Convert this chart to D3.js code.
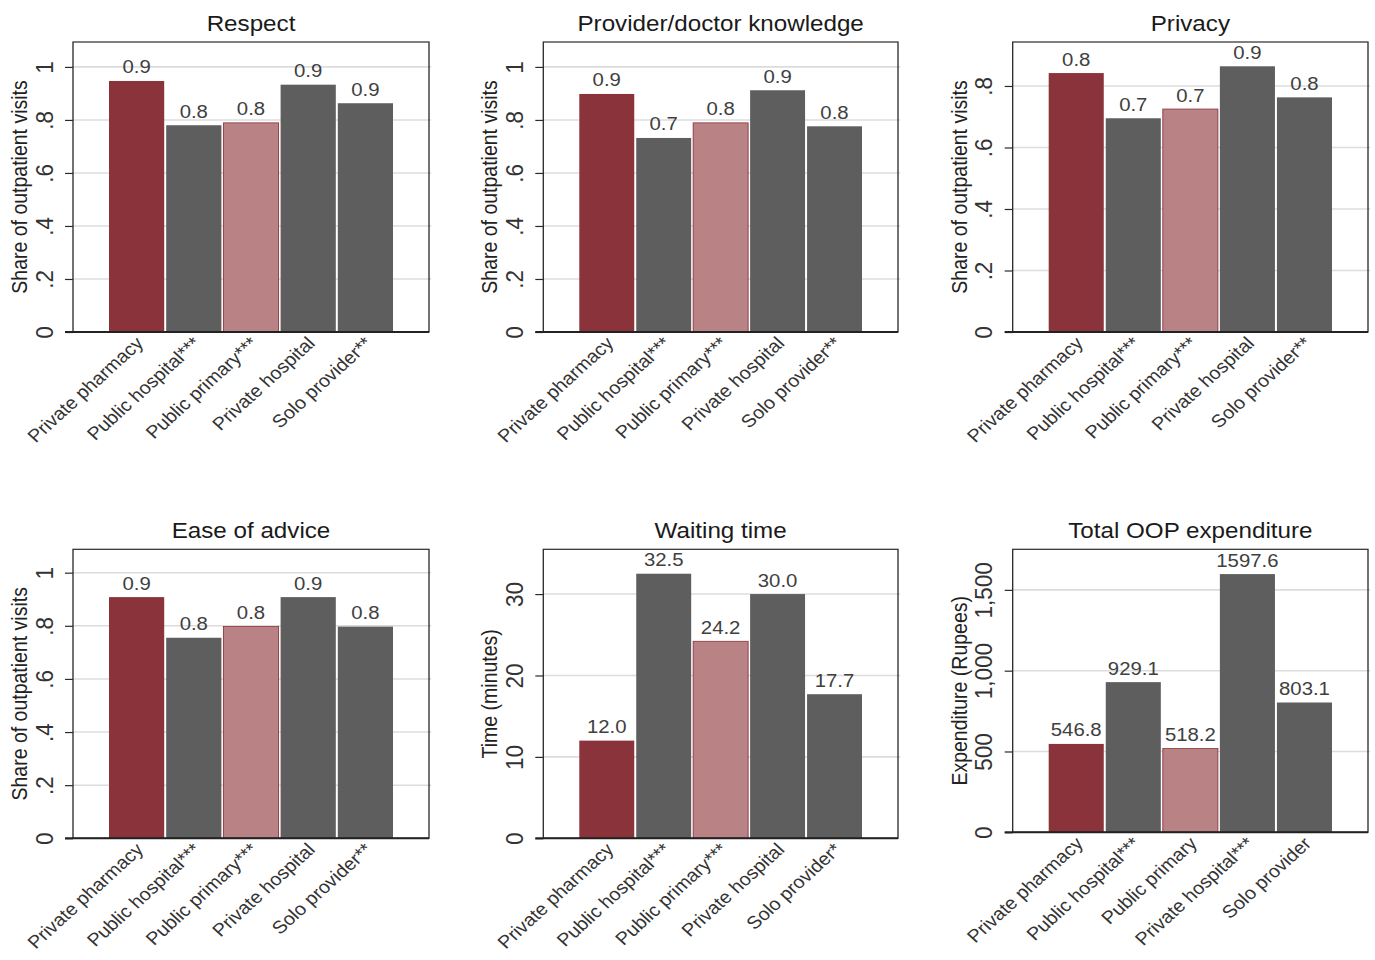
<!DOCTYPE html>
<html>
<head>
<meta charset="utf-8">
<script src="https://cdn.jsdelivr.net/npm/d3@7"></script>
<style>
  html, body { margin: 0; padding: 0; background: #fff; }
  svg { display: block; font-family: "Liberation Sans", Arial, sans-serif; }
</style>
</head>
<body>
<script>
// provider types on the x axis (same order in every panel)
const providers = ["Private pharmacy", "Public hospital", "Public primary", "Private hospital", "Solo provider"];

// significance stars appended to each label, per panel
const starsSatisfaction = ["", "***", "***", "", "**"];
const starsWaiting = ["", "***", "***", "", "*"];
const starsSpending = ["", "***", "", "***", ""];

// values
const respect = [0.947, 0.780, 0.789, 0.933, 0.863];
const knowledge = [0.898, 0.732, 0.789, 0.912, 0.776];
const privacy = [0.842, 0.695, 0.725, 0.864, 0.763];
const easeAdvice = [0.908, 0.755, 0.797, 0.908, 0.797];
const waitingTime = [12.0, 32.5, 24.2, 30.0, 17.7];
const oopSpending = [546.8, 929.1, 518.2, 1597.6, 803.1];

// y tick values
const shareTicks = [0, 0.2, 0.4, 0.6, 0.8, 1];
const privacyTicks = [0, 0.2, 0.4, 0.6, 0.8];
const timeTicks = [0, 10, 20, 30];
const spendTicks = [0, 500, 1000, 1500];

const barColors = ["#8b333b", "#5e5e5e", "#b98284", "#5e5e5e", "#5e5e5e"];

// the picture is stretched a bit horizontally, so draw in a narrower box
const SX = 1.1;
const W = 1375, H = 960;

const fmtShare = d => d === 0 ? "0" : d === 1 ? "1" : String(d).replace("0.", ".");

// panel frames, in picture pixels
const panels = [
  {title: "Respect", values: respect, stars: starsSatisfaction, ticks: shareTicks, ymax: 1.094, fmt: fmtShare,
   ylab: "Share of outpatient visits", left: 73, right: 429, top: 42, bottom: 332},
  {title: "Provider/doctor knowledge", values: knowledge, stars: starsSatisfaction, ticks: shareTicks, ymax: 1.094, fmt: fmtShare,
   ylab: "Share of outpatient visits", left: 543.3, right: 898, top: 42, bottom: 332},
  {title: "Privacy", values: privacy, stars: starsSatisfaction, ticks: privacyTicks, ymax: 0.943, fmt: fmtShare,
   ylab: "Share of outpatient visits", left: 1012.7, right: 1368, top: 42, bottom: 332},
  {title: "Ease of advice", values: easeAdvice, stars: starsSatisfaction, ticks: shareTicks, ymax: 1.088, fmt: fmtShare,
   ylab: "Share of outpatient visits", left: 73, right: 429, top: 549.3, bottom: 838.3},
  {title: "Waiting time", values: waitingTime, stars: starsWaiting, ticks: timeTicks, ymax: 35.5, fmt: d3.format("d"),
   ylab: "Time (minutes)", left: 543.3, right: 898, top: 549.3, bottom: 838.3},
  {title: "Total OOP expenditure", values: oopSpending, stars: starsSpending, ticks: spendTicks, ymax: 1751, fmt: d3.format(","),
   ylab: "Expenditure (Rupees)", left: 1012.7, right: 1368, top: 549.3, bottom: 832.3}
];

const svg = d3.select("body").append("svg")
  .attr("width", W)
  .attr("height", H)
  .attr("viewBox", `0 0 ${W / SX} ${H}`)
  .attr("preserveAspectRatio", "none");

panels.forEach(p => {
  const left = p.left / SX, right = p.right / SX;
  const inset = 36 / SX;
  const g = svg.append("g");

  const x = d3.scaleBand()
    .domain(providers)
    .range([left + inset, right - inset])
    .paddingInner(0.035);

  const y = d3.scaleLinear()
    .domain([0, p.ymax])
    .range([p.bottom, p.top]);

  // grid lines
  g.append("g").selectAll("line")
    .data(p.ticks.filter(d => d > 0))
    .join("line")
    .attr("x1", left).attr("x2", right + 2)
    .attr("y1", d => y(d)).attr("y2", d => y(d))
    .attr("stroke", "#dcdcdc")
    .attr("stroke-width", 1.6);

  // bars
  g.append("g").selectAll("rect")
    .data(p.values)
    .join("rect")
    .attr("x", (d, i) => x(providers[i]))
    .attr("width", x.bandwidth())
    .attr("y", d => y(d))
    .attr("height", d => y(0) - y(d))
    .attr("fill", (d, i) => barColors[i])
    .attr("stroke", (d, i) => i === 2 ? "#8b333b" : "none")
    .attr("stroke-width", 0.8);

  // value labels
  g.append("g").selectAll("text")
    .data(p.values)
    .join("text")
    .attr("x", (d, i) => x(providers[i]) + x.bandwidth() / 2)
    .attr("y", d => y(d) - 7.5)
    .attr("text-anchor", "middle")
    .attr("font-size", 18.5)
    .attr("fill", "#404040")
    .text(d => d.toFixed(1));

  // frame
  g.append("rect")
    .attr("x", left).attr("y", p.top)
    .attr("width", right - left).attr("height", p.bottom - p.top)
    .attr("fill", "none")
    .attr("stroke", "#2a2a2a")
    .attr("stroke-width", 1.2);

  // y axis with rotated tick labels
  const yAxis = g.append("g")
    .attr("transform", `translate(${left},0)`)
    .call(d3.axisLeft(y).tickValues(p.ticks).tickFormat(p.fmt).tickSize(8 / SX).tickPadding(0));
  yAxis.select(".domain").remove();
  yAxis.selectAll(".tick line").attr("stroke", "#2a2a2a").attr("stroke-width", 1.2);
  yAxis.selectAll(".tick text")
    .attr("x", null).attr("dy", null)
    .attr("transform", `translate(${-20.5 / SX},0) rotate(-90)`)
    .attr("text-anchor", "middle")
    .attr("font-size", 22.5)
    .attr("font-family", "Liberation Sans, Arial, sans-serif")
    .attr("fill", "#333");

  // x axis line (extends under the 0 tick)
  g.append("line")
    .attr("x1", left - 8 / SX).attr("x2", right)
    .attr("y1", p.bottom).attr("y2", p.bottom)
    .attr("stroke", "#222")
    .attr("stroke-width", 2);

  // category labels
  g.append("g").selectAll("text")
    .data(providers)
    .join("text")
    .attr("transform", d => `translate(${x(d) + x.bandwidth() / 2 + 3 / SX},${p.bottom + 8}) rotate(-45)`)
    .attr("text-anchor", "end")
    .attr("dy", "0.35em")
    .attr("font-size", 18)
    .attr("fill", "#333")
    .text((d, i) => d + p.stars[i]);

  // y title
  g.append("text")
    .attr("transform", `translate(${left - 46 / SX},${(p.top + p.bottom) / 2}) rotate(-90)`)
    .attr("text-anchor", "middle")
    .attr("font-size", 19.5)
    .attr("fill", "#222")
    .text(p.ylab);

  // panel title
  g.append("text")
    .attr("x", (left + right) / 2)
    .attr("y", p.top - 11)
    .attr("text-anchor", "middle")
    .attr("font-size", 22)
    .attr("fill", "#1a1a1a")
    .text(p.title);
});
</script>
</body>
</html>
